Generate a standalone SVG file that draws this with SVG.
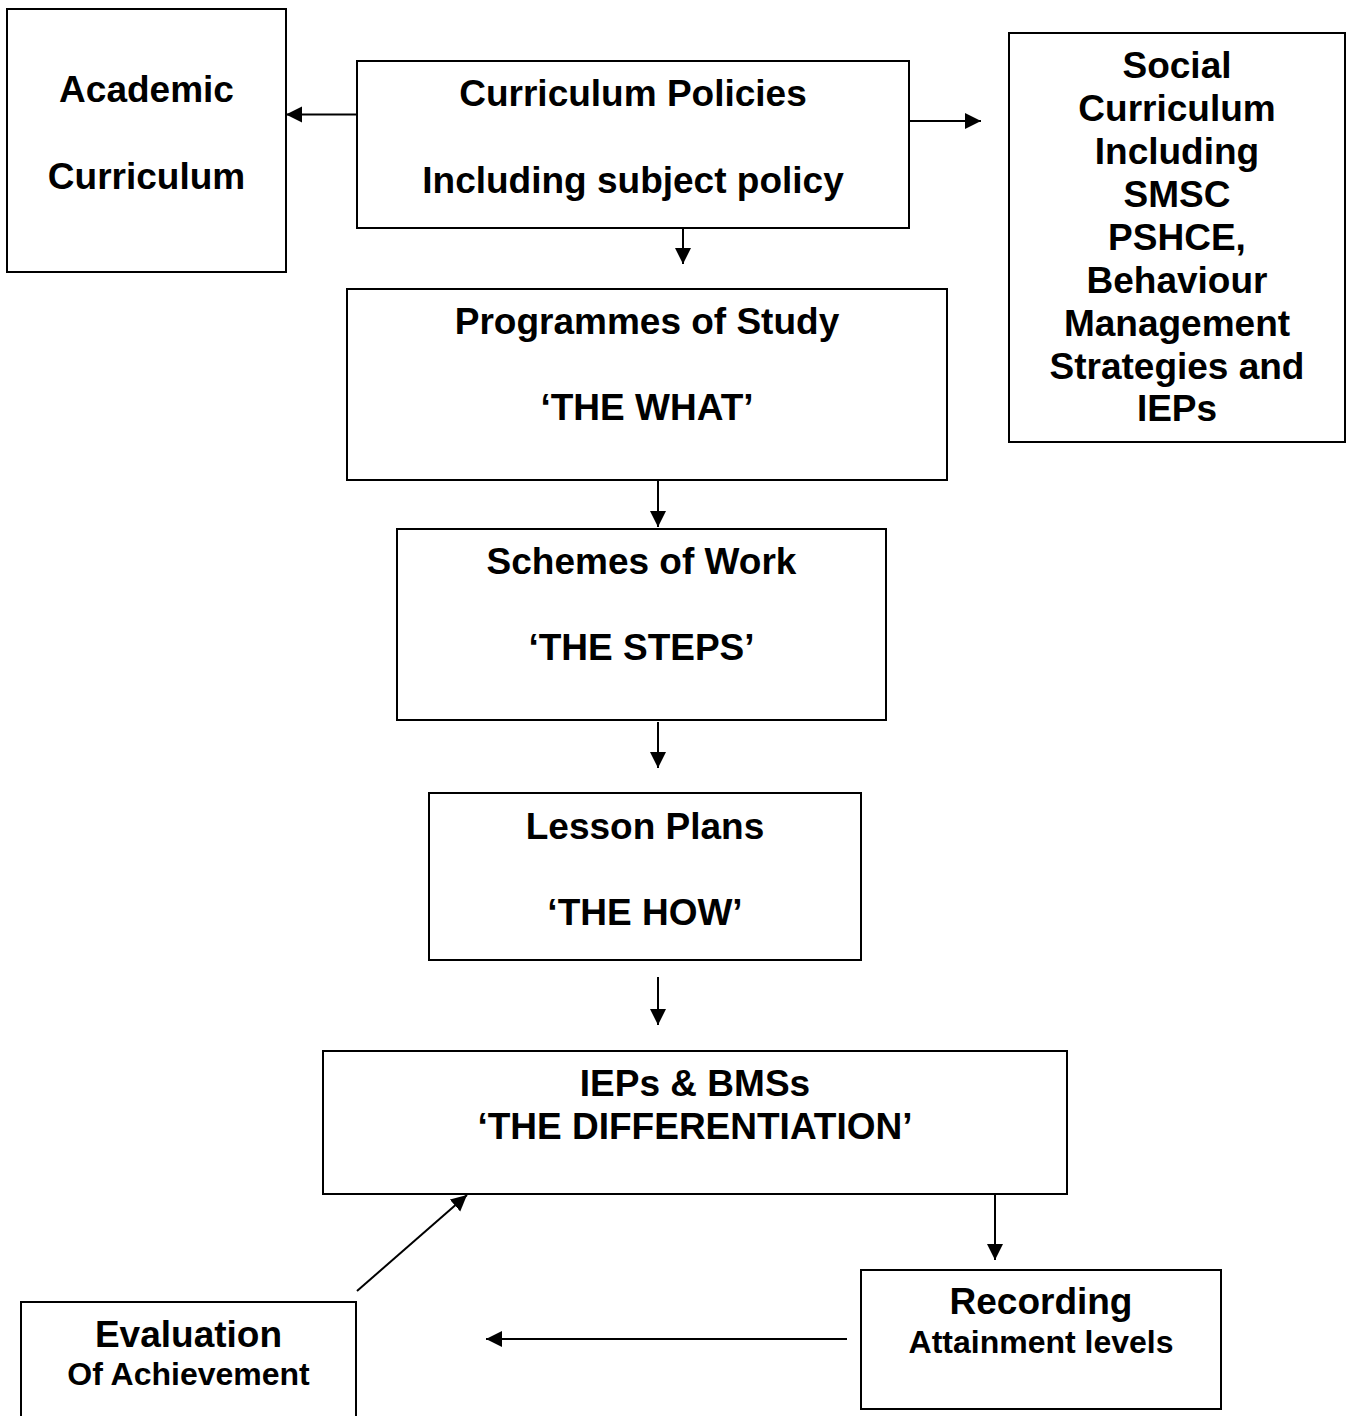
<svg xmlns="http://www.w3.org/2000/svg" width="1352" height="1416" viewBox="0 0 1352 1416">
<style>
.box{fill:#fff;stroke:#000;stroke-width:2}
.t{font-family:"Liberation Sans",Arial,sans-serif;font-weight:bold;font-size:37px;text-anchor:middle;fill:#000}
.s{font-size:32px}
.c{stroke:#000;stroke-width:2;fill:none;marker-end:url(#ah)}
</style>
<defs>
<marker id="ah" markerUnits="userSpaceOnUse" markerWidth="18" markerHeight="18" refX="16" refY="8" orient="auto">
<path d="M0,0 L16,8 L0,16 z" fill="#000"/>
</marker>
</defs>
<rect width="1352" height="1416" fill="#fff"/>
<g id="academic">
<rect class="box" x="7" y="9" width="279" height="263"/>
<text class="t" x="146.5" y="102">Academic</text>
<text class="t" x="146.5" y="189">Curriculum</text>
</g>
<g id="policies">
<rect class="box" x="357" y="61" width="552" height="167"/>
<text class="t" x="633" y="106">Curriculum Policies</text>
<text class="t" x="633" y="193">Including subject policy</text>
</g>
<g id="social">
<rect class="box" x="1009" y="33" width="336" height="409"/>
<text class="t" x="1177" y="78">Social</text>
<text class="t" x="1177" y="121">Curriculum</text>
<text class="t" x="1177" y="164">Including</text>
<text class="t" x="1177" y="207">SMSC</text>
<text class="t" x="1177" y="250">PSHCE,</text>
<text class="t" x="1177" y="293">Behaviour</text>
<text class="t" x="1177" y="336">Management</text>
<text class="t" x="1177" y="379">Strategies and</text>
<text class="t" x="1177" y="421">IEPs</text>
</g>
<g id="programmes">
<rect class="box" x="347" y="289" width="600" height="191"/>
<text class="t" x="647" y="334">Programmes of Study</text>
<text class="t" x="647" y="420">‘THE WHAT’</text>
</g>
<g id="schemes">
<rect class="box" x="397" y="529" width="489" height="191"/>
<text class="t" x="641.5" y="574">Schemes of Work</text>
<text class="t" x="641.5" y="660">‘THE STEPS’</text>
</g>
<g id="lesson">
<rect class="box" x="429" y="793" width="432" height="167"/>
<text class="t" x="645" y="839">Lesson Plans</text>
<text class="t" x="645" y="925">‘THE HOW’</text>
</g>
<g id="ieps">
<rect class="box" x="323" y="1051" width="744" height="143"/>
<text class="t" x="695" y="1096">IEPs &amp; BMSs</text>
<text class="t" x="695" y="1139">‘THE DIFFERENTIATION’</text>
</g>
<g id="evaluation">
<rect class="box" x="21" y="1302" width="335" height="130"/>
<text class="t" x="188.5" y="1347">Evaluation</text>
<text class="t s" x="188.5" y="1385">Of Achievement</text>
</g>
<g id="recording">
<rect class="box" x="861" y="1270" width="360" height="139"/>
<text class="t" x="1041" y="1314">Recording</text>
<text class="t s" x="1041" y="1353">Attainment levels</text>
</g>
<g id="connectors">
<line class="c" x1="357" y1="114.5" x2="286" y2="114.5"/>
<line class="c" x1="909" y1="121" x2="981" y2="121"/>
<line class="c" x1="683" y1="228" x2="683" y2="264"/>
<line class="c" x1="658" y1="481" x2="658" y2="527"/>
<line class="c" x1="658" y1="722" x2="658" y2="768"/>
<line class="c" x1="658" y1="977" x2="658" y2="1025"/>
<line class="c" x1="995" y1="1194" x2="995" y2="1260"/>
<line class="c" x1="847" y1="1339" x2="486" y2="1339"/>
<line class="c" x1="357" y1="1291" x2="467" y2="1195"/>
</g>
</svg>
